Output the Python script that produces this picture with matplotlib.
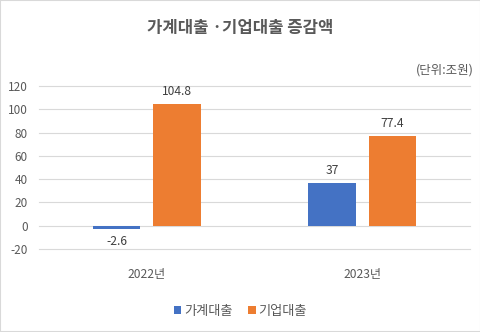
import matplotlib
matplotlib.use("Agg")
import matplotlib.pyplot as plt
import numpy as np
from matplotlib.patches import Rectangle

plt.rcParams['font.family'] = ['Noto Sans CJK KR', 'DejaVu Sans']

categories = ["2022년", "2023년"]
series_names = ["가계대출", "기업대출"]
household = [-2.6, 37]
corporate = [104.8, 77.4]
labels_h = ["-2.6", "37"]
labels_c = ["104.8", "77.4"]
yticks = [-20, 0, 20, 40, 60, 80, 100, 120]

blue = "#4472C4"
orange = "#ED7D31"
txt = "#595959"

fig = plt.figure(figsize=(4.81, 3.32), dpi=100)
fig.patches.append(Rectangle((0, 0), 1, 1, transform=fig.transFigure, fill=False,
                             edgecolor="#D9D9D9", linewidth=1.5))
ax = fig.add_axes([0.081, 0.25, 0.896, 0.491])

x = np.arange(len(categories))
w = 0.22
off = 0.14
b1 = ax.bar(x - off, household, w, color=blue, label=series_names[0], zorder=3)
b2 = ax.bar(x + off, corporate, w, color=orange, label=series_names[1], zorder=3)

for xi, v, s in zip(x - off, household, labels_h):
    if v >= 0:
        ax.text(xi, v + 5, s, ha="center", va="bottom", fontsize=8.7, color="#404040")
    else:
        ax.text(xi, v - 5, s, ha="center", va="top", fontsize=8.7, color="#404040")
for xi, v, s in zip(x + off, corporate, labels_c):
    ax.text(xi, v + 5, s, ha="center", va="bottom", fontsize=8.7, color="#404040")

ax.set_xlim(-0.5, 1.5)
ax.set_ylim(-20, 120)
ax.set_yticks(yticks)
ax.set_yticklabels([str(t) for t in yticks], fontsize=8.5, color=txt)
ax.set_xticks(x)
ax.set_xticklabels(categories, fontsize=8.7, color=txt)
ax.tick_params(axis="both", length=0)
ax.tick_params(axis="x", pad=14)
ax.tick_params(axis="y", pad=8)
ax.grid(axis="y", color="#D9D9D9", linewidth=0.8, zorder=0)
for gl in ax.yaxis.get_gridlines():
    gl.set_clip_on(False)
for sp in ax.spines.values():
    sp.set_visible(False)

fig.text(0.5, 0.915, "가계대출 ·기업대출 증감액", ha="center", va="center",
         fontsize=12, fontweight="bold", color=txt)
fig.text(0.984, 0.79, "(단위:조원)", ha="right", va="center", fontsize=9, color=txt)

fig.legend(handles=[b1, b2], labels=series_names, loc="center", bbox_to_anchor=(0.5, 0.063),
           ncol=2, frameon=False, fontsize=9.5, handlelength=0.55, handleheight=0.55,
           handletextpad=0.2, columnspacing=1.2, labelcolor=txt)

fig.savefig("out.png", dpi=100)
